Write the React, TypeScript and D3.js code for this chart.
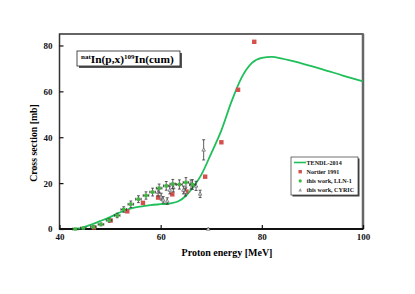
import React, { useEffect, useRef } from 'react';
import * as d3 from 'd3';

// TENDL-2014 curve (energy MeV, cross section mb)
const tendlE = [42.6, 44, 46, 48, 50, 52, 54, 56, 58, 60, 62, 63.5, 65, 66.5, 68, 70, 72, 74, 76, 78, 80, 82, 84, 88, 92, 96, 100];
const tendlS = [0, 0.3, 1.7, 3.4, 5.2, 7.3, 8.9, 9.8, 10.4, 10.8, 11.2, 12.1, 14.5, 18.5, 23.5, 33.0, 43.0, 55.5, 66.0, 72.3, 74.6, 75.0, 74.3, 72.1, 69.6, 66.9, 64.3];

// Nortier 1991
const nortierE = [46.8, 50.1, 53.4, 56.5, 59.5, 62.3, 65.1, 68.8, 72.0, 75.3, 78.5];
const nortierS = [0.7, 3.7, 7.7, 11.4, 13.7, 15.1, 16.3, 22.8, 37.8, 60.7, 81.6];

// this work, LLN-1
const llnE = [43.1, 44.7, 46.7, 48.2, 49.8, 51.4, 52.7, 54.1, 55.6, 57.1, 58.4, 59.7, 61.1, 62.4, 63.7, 65.0, 66.3];
const llnS = [0, 0.4, 0.9, 2.0, 3.8, 5.9, 8.5, 10.8, 13.0, 14.6, 16.1, 17.8, 18.8, 19.6, 19.4, 20.3, 19.4];
const llnErr = [0.2, 0.3, 0.4, 0.6, 0.8, 1.0, 1.2, 1.4, 1.5, 1.6, 1.7, 1.8, 1.9, 2.0, 2.0, 2.1, 2.1];

// this work, CYRIC
const cyricE = [59.5, 60.1, 60.5, 61.3, 61.8, 62.5, 64.5, 64.9, 66.0, 67.0, 67.8, 68.5, 69.4];
const cyricS = [16.0, 14.1, 12.7, 12.2, 17.0, 18.0, 17.0, 16.0, 19.4, 18.8, 15.3, 34.5, 0];
const cyricErr = [1.6, 1.5, 1.4, 1.4, 1.7, 1.8, 1.7, 1.6, 2.0, 2.0, 1.6, 4.4, 0];

const xTicks = [40, 60, 80, 100];
const yTicks = [0, 20, 40, 60, 80];

const legendItems = ['TENDL-2014', 'Nortier 1991', 'this work, LLN-1', 'this work, CYRIC'];

const GREEN = '#1fbf5a';
const RED = '#d4504d';
const GRAY = '#9a9a9a';
const FONT = '"Liberation Serif", "Times New Roman", serif';

const App: React.FC = () => {
  const svgRef = useRef<SVGSVGElement>(null);

  useEffect(() => {
    if (!svgRef.current) return;
    const svg = d3.select(svgRef.current);
    svg.selectAll('*').remove();

    const left = 59.5, right = 363, top = 34, bottom = 229;
    const x = d3.scaleLinear().domain([40, 100]).range([left, right]);
    const y = d3.scaleLinear().domain([0, 85]).range([bottom, top]);

    const chart = svg.append('g');

    // frame
    chart.append('rect')
      .attr('x', left).attr('y', top)
      .attr('width', right - left).attr('height', bottom - top)
      .attr('fill', 'white').attr('stroke', '#333').attr('stroke-width', 1.5);
    chart.append('line')
      .attr('x1', right).attr('x2', right).attr('y1', top).attr('y2', bottom)
      .attr('stroke', '#666').attr('stroke-width', 2.5);
    chart.append('line')
      .attr('x1', left).attr('x2', right).attr('y1', bottom).attr('y2', bottom)
      .attr('stroke', '#111').attr('stroke-width', 2);

    // axes
    const xAxis = chart.append('g')
      .attr('transform', `translate(0,${bottom})`)
      .call(d3.axisBottom(x).tickValues(xTicks).tickSizeInner(-4).tickSizeOuter(0).tickPadding(5));
    xAxis.select('.domain').remove();
    const yAxis = chart.append('g')
      .attr('transform', `translate(${left},0)`)
      .call(d3.axisLeft(y).tickValues(yTicks).tickSizeInner(-4).tickSizeOuter(0).tickPadding(7));
    yAxis.select('.domain').remove();
    [xAxis, yAxis].forEach(a => {
      a.selectAll('text')
        .attr('font-family', FONT).attr('font-weight', 'bold')
        .attr('font-size', 9).attr('fill', '#111');
      a.selectAll('line').attr('stroke', '#111').attr('stroke-width', 1.2);
    });

    // axis titles
    svg.append('text')
      .attr('x', 227).attr('y', 256)
      .attr('text-anchor', 'middle')
      .attr('font-family', FONT).attr('font-weight', 'bold').attr('font-size', 10)
      .text('Proton energy [MeV]');
    svg.append('text')
      .attr('transform', 'translate(37,143) rotate(-90)')
      .attr('text-anchor', 'middle')
      .attr('font-family', FONT).attr('font-weight', 'bold').attr('font-size', 9.8)
      .text('Cross section [mb]');

    // TENDL curve
    const line = d3.line<number>()
      .x((_, i) => x(tendlE[i]))
      .y(d => y(d))
      .curve(d3.curveMonotoneX);
    chart.append('path')
      .datum(tendlS)
      .attr('d', line)
      .attr('fill', 'none').attr('stroke', GREEN).attr('stroke-width', 1.8);

    // Nortier squares
    chart.append('g').selectAll('rect')
      .data(nortierS)
      .join('rect')
      .attr('x', (_, i) => x(nortierE[i]) - 2.2)
      .attr('y', d => y(d) - 2.2)
      .attr('width', 4.4).attr('height', 4.4)
      .attr('fill', RED);

    // CYRIC with vertical error bars
    const cy = chart.append('g');
    cyricS.forEach((s, i) => {
      const cx = x(cyricE[i]);
      const e = cyricErr[i];
      if (e > 0) {
        cy.append('line')
          .attr('x1', cx).attr('x2', cx).attr('y1', y(s - e)).attr('y2', y(s + e))
          .attr('stroke', '#333').attr('stroke-width', 0.8);
        [s - e, s + e].forEach(v => {
          cy.append('line')
            .attr('x1', cx - 1.5).attr('x2', cx + 1.5).attr('y1', y(v)).attr('y2', y(v))
            .attr('stroke', '#333').attr('stroke-width', 0.8);
        });
      }
      const cyy = y(s);
      cy.append('path')
        .attr('d', `M${cx},${cyy - 2}L${cx + 1.8},${cyy + 1.3}L${cx - 1.8},${cyy + 1.3}Z`)
        .attr('fill', '#ddd').attr('stroke', '#555').attr('stroke-width', 0.6);
    });

    // LLN-1 with error crosses
    const lg = chart.append('g');
    llnS.forEach((s, i) => {
      const cx = x(llnE[i]);
      const cyy = y(s);
      const e = llnErr[i];
      const xe = x(llnE[i] + 0.55) - cx;
      lg.append('line')
        .attr('x1', cx).attr('x2', cx).attr('y1', y(s - e)).attr('y2', y(s + e))
        .attr('stroke', '#333').attr('stroke-width', 0.8);
      lg.append('line')
        .attr('x1', cx - xe).attr('x2', cx + xe).attr('y1', cyy).attr('y2', cyy)
        .attr('stroke', '#333').attr('stroke-width', 0.8);
      [s - e, s + e].forEach(v => {
        lg.append('line')
          .attr('x1', cx - 1.4).attr('x2', cx + 1.4).attr('y1', y(v)).attr('y2', y(v))
          .attr('stroke', '#333').attr('stroke-width', 0.8);
      });
      [cx - xe, cx + xe].forEach(v => {
        lg.append('line')
          .attr('x1', v).attr('x2', v).attr('y1', cyy - 1.4).attr('y2', cyy + 1.4)
          .attr('stroke', '#333').attr('stroke-width', 0.8);
      });
      lg.append('rect')
        .attr('x', cx - 1.7).attr('y', cyy - 1.7)
        .attr('width', 3.4).attr('height', 3.4)
        .attr('fill', '#3cb83c');
    });

    // title box
    const tb = svg.append('g');
    tb.append('rect').attr('x', 79).attr('y', 53).attr('width', 103).attr('height', 15).attr('fill', '#555');
    tb.append('rect').attr('x', 77).attr('y', 51).attr('width', 103).attr('height', 15)
      .attr('fill', 'white').attr('stroke', '#222').attr('stroke-width', 0.8);
    const tt = tb.append('text')
      .attr('x', 81).attr('y', 62.5)
      .attr('font-family', FONT).attr('font-weight', 'bold').attr('font-size', 11.4);
    tt.append('tspan').attr('font-size', 7).attr('dy', -4).text('nat');
    tt.append('tspan').attr('dy', 4).text('In(p,x)');
    tt.append('tspan').attr('font-size', 7).attr('dy', -4).text('109');
    tt.append('tspan').attr('dy', 4).text('In(cum)');

    // legend
    const lgx = 291, lgy = 157, lw = 67, lh = 38;
    const leg = svg.append('g');
    leg.append('rect').attr('x', lgx + 1.5).attr('y', lgy + 1.5).attr('width', lw).attr('height', lh).attr('fill', '#444');
    leg.append('rect').attr('x', lgx).attr('y', lgy).attr('width', lw).attr('height', lh)
      .attr('fill', 'white').attr('stroke', '#333').attr('stroke-width', 0.7);
    legendItems.forEach((name, i) => {
      const ly = lgy + 5.5 + i * 9.2;
      if (i === 0) {
        leg.append('line').attr('x1', lgx + 3).attr('x2', lgx + 15).attr('y1', ly).attr('y2', ly)
          .attr('stroke', GREEN).attr('stroke-width', 1.6);
      } else if (i === 1) {
        leg.append('rect').attr('x', lgx + 7.5).attr('y', ly - 1.7).attr('width', 3.4).attr('height', 3.4).attr('fill', RED);
      } else if (i === 2) {
        leg.append('circle').attr('cx', lgx + 9.2).attr('cy', ly).attr('r', 1.6).attr('fill', '#3cb83c');
      } else {
        leg.append('path')
          .attr('d', `M${lgx + 9.2},${ly - 2}L${lgx + 11},${ly + 1.3}L${lgx + 7.4},${ly + 1.3}Z`)
          .attr('fill', GRAY);
      }
      leg.append('text')
        .attr('x', lgx + 15.5).attr('y', ly + 2.2)
        .attr('font-family', FONT).attr('font-weight', 'bold').attr('font-size', 6.1)
        .attr('fill', '#111')
        .text(name);
    });
  }, []);

  return (
    <svg ref={svgRef} width={415} height={294}
      style={{ position: 'absolute', left: 0, top: 0, background: 'white' }} />
  );
};

export default App;
